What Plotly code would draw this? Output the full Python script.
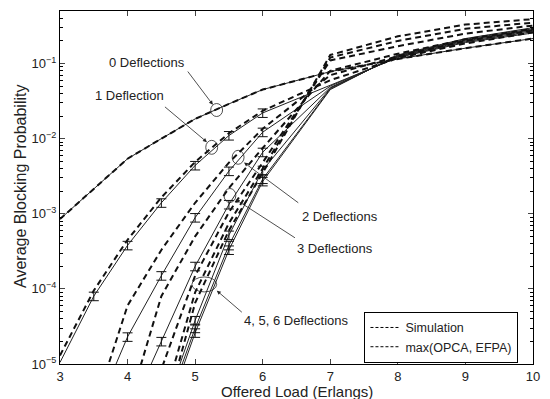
import plotly.graph_objects as go

# ---------------- data ----------------
x_load = [3, 3.5, 4, 4.5, 5, 5.5, 6, 7, 8, 9, 10]

sim_0 = [8.5e-4, 2.15e-3, 5.4e-3, 1.0e-2, 1.83e-2, 2.9e-2, 4.5e-2, 7.8e-2, 0.115, 0.16, 0.215]
sim_1 = [1.05e-5, 8e-5, 3.8e-4, 1.4e-3, 4.4e-3, 1.1e-2, 2.2e-2, 5.2e-2, 0.12, 0.19, 0.255]
sim_2 = [2e-7, 2e-6, 2.3e-5, 1.5e-4, 8.9e-4, 3.7e-3, 1.22e-2, 5.0e-2, 0.122, 0.195, 0.265]
sim_3 = [1e-8, 1e-7, 2e-6, 2e-5, 2e-4, 1.33e-3, 6.6e-3, 4.8e-2, 0.124, 0.2, 0.275]
sim_4 = [1e-10, 5e-9, 1e-7, 1.9e-6, 3.8e-5, 5.2e-4, 3.8e-3, 4.7e-2, 0.126, 0.205, 0.283]
sim_5 = [5e-11, 2e-9, 6e-8, 1.7e-6, 3e-5, 3.8e-4, 2.9e-3, 4.6e-2, 0.128, 0.21, 0.29]
sim_6 = [2e-11, 1e-9, 4e-8, 1.4e-6, 2.6e-5, 3.3e-4, 2.7e-3, 4.5e-2, 0.13, 0.215, 0.3]

ana_0 = [8.5e-4, 2.15e-3, 5.4e-3, 1.0e-2, 1.83e-2, 2.9e-2, 4.5e-2, 7.8e-2, 0.115, 0.16, 0.215]
ana_1 = [1.3e-5, 9.5e-5, 4.5e-4, 1.65e-3, 4.9e-3, 1.18e-2, 2.35e-2, 6.0e-2, 0.118, 0.185, 0.26]
ana_2 = [1e-7, 2.5e-6, 6e-5, 3.3e-4, 1.4e-3, 4.8e-3, 1.35e-2, 7.0e-2, 0.125, 0.2, 0.275]
ana_3 = [1e-9, 5e-8, 2.5e-6, 8e-5, 5e-4, 2.2e-3, 7.5e-3, 8.0e-2, 0.135, 0.21, 0.29]
ana_4 = [1e-11, 1e-9, 1e-7, 8.5e-6, 1.5e-4, 1.05e-3, 4.8e-3, 0.11, 0.17, 0.25, 0.32]
ana_5 = [5e-12, 5e-10, 4e-8, 2.5e-6, 9e-5, 7.5e-4, 4e-3, 0.12, 0.2, 0.29, 0.35]
ana_6 = [2e-12, 2e-10, 2e-8, 1.5e-6, 6.5e-5, 6e-4, 3.5e-3, 0.13, 0.23, 0.33, 0.39]

sim_series = [sim_0, sim_1, sim_2, sim_3, sim_4, sim_5, sim_6]
ana_series = [ana_0, ana_1, ana_2, ana_3, ana_4, ana_5, ana_6]

y_tickvals = [1e-5, 1e-4, 1e-3, 1e-2, 1e-1]
y_ticktext = ["10<sup>−5</sup>", "10<sup>−4</sup>", "10<sup>−3</sup>", "10<sup>−2</sup>", "10<sup>−1</sup>"]
x_tickvals = [3, 4, 5, 6, 7, 8, 9, 10]

legend_names = ["Simulation", "max(OPCA, EFPA)"]

# ---------------- layout helpers ----------------
L, R, T, B = 60, 12, 10, 35
W, H = 550, 399
PW, PH = W - L - R, H - T - B
FONT = "Liberation Sans, Arial, sans-serif"


def px2p(px, py):
    return (px - L) / PW, (H - B - py) / PH


fig = go.Figure()

for s in sim_series:
    fig.add_trace(go.Scatter(x=x_load, y=s, mode="lines",
                             line=dict(color="#222222", width=1),
                             showlegend=False, hoverinfo="skip"))
for a in ana_series:
    fig.add_trace(go.Scatter(x=x_load, y=a, mode="lines",
                             line=dict(color="#111111", width=2, dash="6px,4px"),
                             showlegend=False, hoverinfo="skip"))

for s in sim_series[1:]:
    xs = [x for x, y in zip(x_load, s) if 3.5 <= x <= 6 and y >= 1e-5]
    ys = [y for x, y in zip(x_load, s) if 3.5 <= x <= 6 and y >= 1e-5]
    fig.add_trace(go.Scatter(x=xs, y=ys, mode="markers",
                             marker=dict(size=1, color="rgba(0,0,0,0)"),
                             error_y=dict(type="percent", value=13, thickness=1,
                                          width=5, color="#111111"),
                             showlegend=False, hoverinfo="skip"))

for name in legend_names:
    fig.add_trace(go.Scatter(x=[None], y=[None], mode="lines", name=name,
                             line=dict(color="black", width=1, dash="3px,2px")))

# ---------------- annotations ----------------
ann = []
texts = [
    ("0 Deflections", 148.3, 61.7),
    ("1 Deflection", 130, 94.3),
    ("2 Deflections", 342.5, 215.7),
    ("3 Deflections", 337.5, 248.3),
    ("4, 5, 6 Deflections", 299.5, 320.7),
]
for t, px, py in texts:
    xp, yp = px2p(px, py)
    ann.append(dict(text=t, x=xp, y=yp, xref="paper", yref="paper",
                    showarrow=False, xanchor="center", yanchor="middle",
                    font=dict(family=FONT, size=13, color="#222")))

arrows = [
    ((188.3, 69.3), (214.5, 104)),
    ((165, 105), (208.5, 141.5)),
    ((301.7, 203.3), (246, 162)),
    ((298.3, 238.3), (237.5, 199)),
    ((245, 313.3), (218.5, 290.5)),
]
for (tx, ty), (hx, hy) in arrows:
    xp, yp = px2p(hx, hy)
    ann.append(dict(text="", x=xp, y=yp, xref="paper", yref="paper",
                    showarrow=True, ax=tx - hx, ay=ty - hy,
                    arrowhead=2, arrowsize=1, arrowwidth=0.8, arrowcolor="#222"))

ann.append(dict(text="Offered Load (Erlangs)", x=px2p(299, 0)[0], y=px2p(0, 391.5)[1],
                xref="paper", yref="paper", showarrow=False,
                xanchor="center", yanchor="middle",
                font=dict(family=FONT, size=15, color="#222")))
ann.append(dict(text="Average Blocking Probability", x=px2p(20, 0)[0], y=px2p(0, 186)[1],
                xref="paper", yref="paper", showarrow=False, textangle=-90,
                xanchor="center", yanchor="middle",
                font=dict(family=FONT, size=16, color="#222")))

shapes = []
ellipses = [
    (218.3, 109.3, 6, 6.5),
    (213.3, 146.7, 6, 7),
    (240, 156.7, 6, 7),
    (231.7, 195, 6, 7),
    (205.8, 284.2, 12.5, 7.5),
]
for cx, cy, rx, ry in ellipses:
    x0, y0 = px2p(cx - rx, cy + ry)
    x1, y1 = px2p(cx + rx, cy - ry)
    shapes.append(dict(type="circle", xref="paper", yref="paper",
                       x0=x0, y0=y0, x1=x1, y1=y1,
                       line=dict(color="#222", width=0.8)))

minor_vals = [m * 10 ** e for e in range(-5, 0) for m in range(2, 10)]

lx, ly = px2p(523.3, 311.7)

fig.update_layout(
    width=W, height=H,
    margin=dict(l=L, r=R, t=T, b=B),
    paper_bgcolor="white", plot_bgcolor="white",
    font=dict(family=FONT, size=13, color="#222"),
    annotations=ann, shapes=shapes,
    legend=dict(x=lx, y=ly, xanchor="right", yanchor="top",
                bgcolor="white", bordercolor="black", borderwidth=1,
                font=dict(family=FONT, size=12.5, color="#222"),
                itemwidth=30, tracegroupgap=0),
    xaxis=dict(range=[3, 10], tickvals=x_tickvals, ticks="inside", ticklen=5,
               showline=True, linecolor="black", linewidth=1, mirror="ticks",
               showgrid=False, zeroline=False,
               tickfont=dict(family=FONT, size=13, color="#222")),
    yaxis=dict(type="log", range=[-5, -0.301], tickvals=y_tickvals, ticktext=y_ticktext,
               ticks="inside", ticklen=5,
               showline=True, linecolor="black", linewidth=1, mirror="ticks",
               showgrid=False, zeroline=False,
               minor=dict(tickvals=minor_vals, ticks="inside", ticklen=3,
                          tickcolor="black", showgrid=False),
               tickfont=dict(family=FONT, size=13, color="#222")),
)

fig.write_html("out.html")
